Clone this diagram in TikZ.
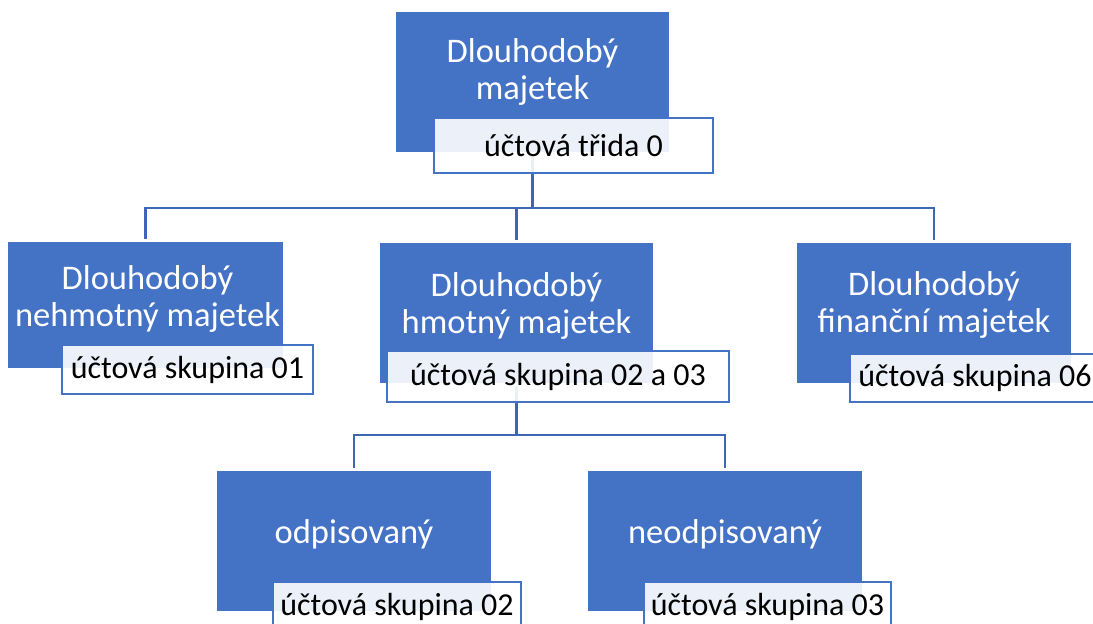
\documentclass[tikz,border=0pt]{standalone}
\usepackage{fontspec}
\setmainfont{Carlito}
\definecolor{accent}{HTML}{4472C4}
\definecolor{wire}{HTML}{3D67B2}
\tikzset{
BOX/.style={draw=none, fill=accent, inner sep=0pt},
BOXTEXT/.style={text=white, align=center, inner sep=0pt, font=\fontsize{34.5}{37.5}\selectfont},
TAG/.style={draw=accent, line width=2pt, fill=white, fill opacity=0.9, text opacity=1, inner sep=0pt, font=\fontsize{32}{37}\selectfont},
LINK/.style={draw=wire, line width=2.8pt, shorten >=3pt},
}
\begin{document}
\begin{tikzpicture}
[x=1pt, y=-1pt]
	\useasboundingbox (0,0) rectangle (1093,624);
	\clip (0,0) rectangle (1093,624);
	% blue boxes
	\node[BOX, minimum width=273, minimum height=140] (dm) at (532.5,82) {};
	\node[BOX, minimum width=275, minimum height=126] (dn) at (145.5,305) {};
	\node[BOX, minimum width=273, minimum height=140] (dh) at (516.5,313) {};
	\node[BOX, minimum width=274, minimum height=140] (df) at (934,313) {};
	\node[BOX, minimum width=274, minimum height=140] (do) at (354,541) {};
	\node[BOX, minimum width=274, minimum height=140] (dp) at (725,541) {};
	% connectors
	\coordinate (b1) at (532.5,208);
	\coordinate (b2) at (516.5,435);
	\draw[LINK] (b1) -- (dm.south);
	\draw[LINK] (b1) -| (dn.north);
	\draw[LINK] (b1) -| (dh.north);
	\draw[LINK] (b1) -| (df.north);
	\draw[LINK] (b2) -- (dh.south);
	\draw[LINK] (b2) -| (do.north);
	\draw[LINK] (b2) -| (dp.north);
	% texts
	\node[BOXTEXT] (dm-t) at (532.5,72) {Dlouhodobý\\majetek};
	\node[BOXTEXT] (dn-t) at (147.5,299) {Dlouhodobý\\nehmotný majetek};
	\node[BOXTEXT] (dh-t) at (516.5,306) {Dlouhodobý\\hmotný majetek};
	\node[BOXTEXT] (df-t) at (934,305) {Dlouhodobý\\finanční majetek};
	\node[BOXTEXT] (do-t) at (354,534) {odpisovaný};
	\node[BOXTEXT] (dp-t) at (725,534) {neodpisovaný};
	% tags
	\node[TAG, minimum width=279, minimum height=55] (dm-tag) at (573.5,145.5) {účtová třida 0};
	\node[TAG, minimum width=251, minimum height=49] (dn-tag) at (187.5,369.5) {účtová skupina 01};
	\node[TAG, minimum width=342, minimum height=51] (dh-tag) at (558,376.5) {účtová skupina 02 a 03};
	\node[TAG, minimum width=250, minimum height=48] (df-tag) at (975,378) {účtová skupina 06};
	\node[TAG, minimum width=248, minimum height=50] (do-tag) at (397,607) {účtová skupina 02};
	\node[TAG, minimum width=247, minimum height=50] (dp-tag) at (767.5,607) {účtová skupina 03};
\end{tikzpicture}
\end{document}
